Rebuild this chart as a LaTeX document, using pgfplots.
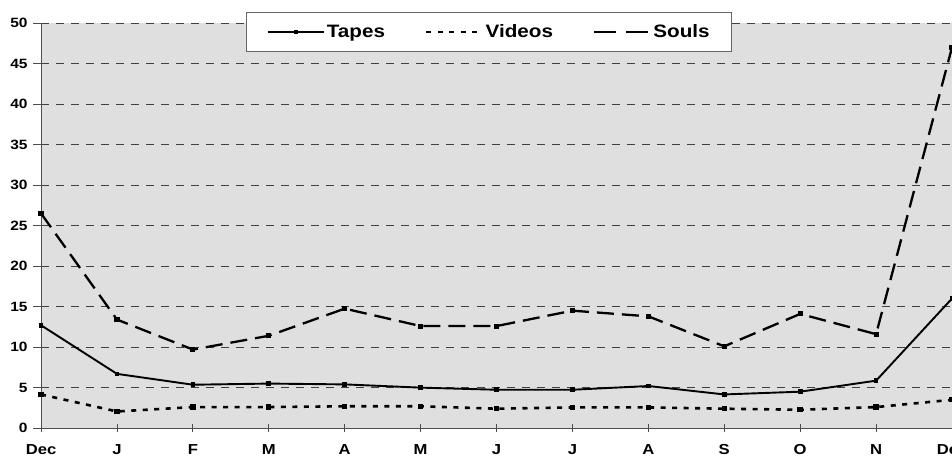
\documentclass[border=0pt]{standalone}
\usepackage{fontspec}
\setmainfont{Liberation Sans}[FakeStretch=1.15]
\usepackage{pgfplots}
\pgfplotsset{compat=1.18}

\pgfplotstableread{
x tapes videos souls
0  12.7 4.16 26.5
1  6.7  2.06 13.4
2  5.36 2.6  9.7
3  5.5  2.6  11.4
4  5.4  2.7  14.75
5  5.0  2.7  12.6
6  4.74 2.4  12.6
7  4.74 2.56 14.5
8  5.2  2.56 13.8
9  4.16 2.4  10.1
10 4.5  2.27 14.1
11 5.86 2.6  11.6
12 16.0 3.5  47.0
}\datatable

\begin{document}
\begin{tikzpicture}
\begin{axis}[
    width=910bp, height=404.7bp,
    scale only axis,
    xmin=0, xmax=12,
    ymin=0, ymax=50,
    axis x line=bottom, axis y line=left,
    axis line style={-, draw=black!70, line width=0.9bp},
    axis background/.style={fill=gray!25},
    xtick={0,...,12},
    xticklabels={Dec,J,F,M,A,M,J,J,A,S,O,N,Dec},
    ytick={0,5,...,50},
    ymajorgrids,
    major grid style={black!75, line width=0.8bp, dash pattern=on 8bp off 7bp},
    x tick style={draw=black!70, line width=0.9bp},
    y tick style={draw=black!70, line width=0.9bp},
    xtick align=center, ytick align=outside,
    major tick length=8bp,
    /pgf/number format/assume math mode=true,
    yticklabel style={font=\bfseries\fontsize{13.5}{16}\selectfont, xshift=-2bp},
    xticklabel style={font=\bfseries\fontsize{14.5}{17}\selectfont, yshift=-9bp},
    clip=false,
    legend style={
        at={(0.492,0.978)}, anchor=center,
        draw=black!60, line width=0.9bp, fill=white,
        font=\bfseries\fontsize{18}{21}\selectfont,
        inner xsep=20bp, inner ysep=10bp,
        /tikz/every even column/.append style={column sep=38bp},
    },
    legend columns=3,
    legend image code/.code={%
        \draw[mark repeat=2, mark phase=2, #1]
            plot coordinates {(0bp,0bp) (28bp,0bp) (56bp,0bp)};},
    every axis plot/.append style={black, mark=square*, mark size=1.4bp,
        mark options={solid}},
]
\addplot[line width=1.9bp] table[x=x, y=tapes] {\datatable};
\addlegendentry{Tapes}
\addplot[line width=2.6bp, dash pattern=on 5bp off 6.5bp,
    legend image post style={mark=none}] table[x=x, y=videos] {\datatable};
\addlegendentry{Videos}
\addplot[line width=2.3bp, dash pattern=on 17bp off 8bp,
    legend image post style={mark=none, dash pattern=on 22bp off 10bp}] table[x=x, y=souls] {\datatable};
\addlegendentry{Souls}
\end{axis}
\pgfresetboundingbox
\useasboundingbox (-41bp,-29.3bp) rectangle (910bp,427.7bp);
\end{tikzpicture}
\end{document}
